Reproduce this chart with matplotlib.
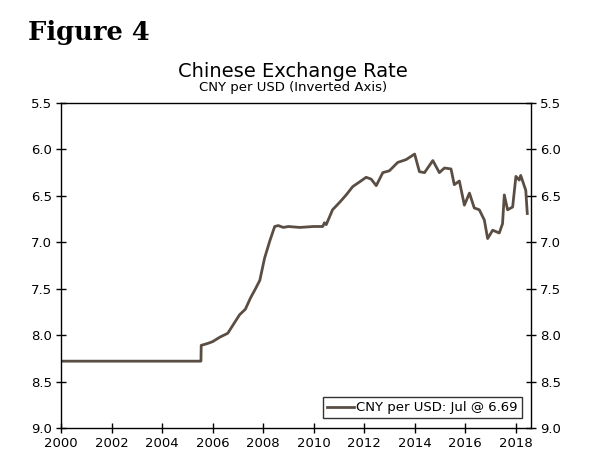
import matplotlib
matplotlib.use("Agg")
import matplotlib.pyplot as plt

# CNY per USD (decimal years)
years = [2000.0, 2001.0, 2002.0, 2003.0, 2004.0, 2005.0, 2005.54, 2005.55,
         2005.8, 2006.0, 2006.3, 2006.6, 2007.07, 2007.3, 2007.5, 2007.7,
         2007.87, 2008.06, 2008.26, 2008.46, 2008.6, 2008.8, 2009.0, 2009.45,
         2010.0, 2010.36, 2010.43, 2010.5, 2010.75, 2011.03, 2011.29, 2011.55,
         2011.82, 2012.08, 2012.28, 2012.48, 2012.74, 2013.0, 2013.33, 2013.66,
         2014.0, 2014.19, 2014.39, 2014.72, 2014.98, 2015.18, 2015.44, 2015.57,
         2015.77, 2015.97, 2016.17, 2016.36, 2016.56, 2016.76, 2016.89, 2017.09,
         2017.35, 2017.48, 2017.55, 2017.68, 2017.88, 2018.01, 2018.14, 2018.2,
         2018.4, 2018.46]
cny = [8.28, 8.28, 8.28, 8.28, 8.28, 8.28, 8.28, 8.11,
       8.09, 8.07, 8.02, 7.98, 7.78, 7.72, 7.60, 7.50,
       7.41, 7.17, 6.99, 6.83, 6.82, 6.84, 6.83, 6.84,
       6.83, 6.83, 6.79, 6.81, 6.65, 6.57, 6.49, 6.40,
       6.35, 6.30, 6.32, 6.39, 6.25, 6.23, 6.14, 6.11,
       6.05, 6.24, 6.25, 6.12, 6.25, 6.20, 6.21, 6.38,
       6.34, 6.60, 6.47, 6.63, 6.65, 6.76, 6.96, 6.87,
       6.90, 6.80, 6.49, 6.65, 6.62, 6.29, 6.33, 6.28,
       6.44, 6.69]

xticks = [2000, 2002, 2004, 2006, 2008, 2010, 2012, 2014, 2016, 2018]
yticks = [5.5, 6.0, 6.5, 7.0, 7.5, 8.0, 8.5, 9.0]

fig = plt.figure(figsize=(6, 4.66), dpi=100)
ax = fig.add_axes([0.1017, 0.0815, 0.783, 0.6975])

ax.plot(years, cny, color="#5a4e44", lw=2, label="CNY per USD: Jul @ 6.69")

ax.set_xlim(2000, 2018.6)
ax.set_ylim(9.0, 5.5)
ax.set_xticks(xticks)
ax.set_yticks(yticks)
ax.set_yticklabels(["%.1f" % v for v in yticks])
ax.tick_params(axis="both", direction="inout", length=7, width=1,
               labelsize=9.5, colors="black", pad=3)
ax.tick_params(axis="y", right=True, labelright=True)
for s in ax.spines.values():
    s.set_linewidth(1)

leg = ax.legend(loc="lower right", frameon=True, fancybox=False, fontsize=9.5,
                handlelength=2, handletextpad=0.2, borderpad=0.3,
                bbox_to_anchor=(0.995, 0.01))
leg.get_frame().set_edgecolor("black")
leg.get_frame().set_linewidth(1)

fig.text(0.047, 0.915, "Figure 4", family="DejaVu Serif", weight="bold",
         fontsize=18.5)
fig.text(0.488, 0.835, "Chinese Exchange Rate", ha="center", fontsize=14)
fig.text(0.488, 0.805, "CNY per USD (Inverted Axis)", ha="center", fontsize=9.5)

fig.savefig("out.png", dpi=100)
